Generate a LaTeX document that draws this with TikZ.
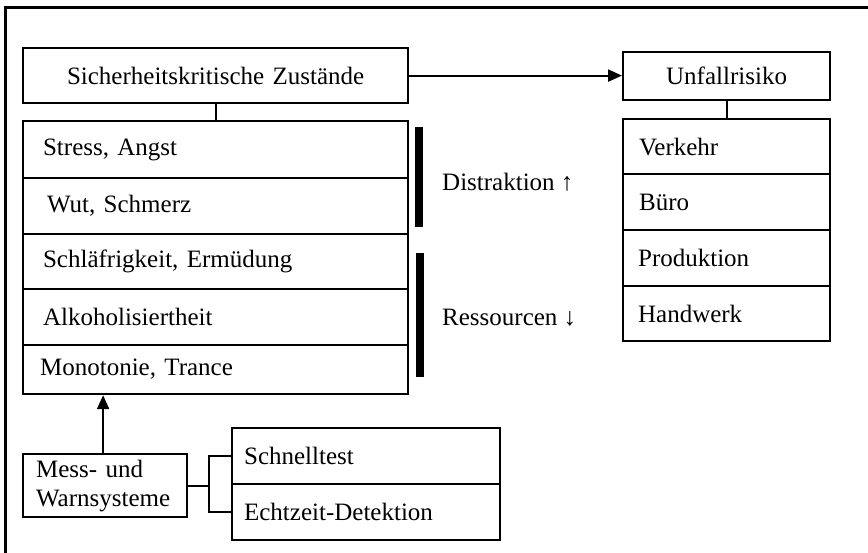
\documentclass[tikz,border=0pt]{standalone}
\usepackage{fontspec}
\setmainfont{Liberation Serif}
\usetikzlibrary{arrows.meta}
\begin{document}
\begin{tikzpicture}[x=1pt,y=-1pt,
  every node/.style={font=\fontsize{25}{29}\selectfont},
  box/.style={draw, line width=2.2pt, anchor=north west, inner ysep=0pt, inner xsep=0pt, align=left},
  bar/.style={fill=black, draw=none, inner sep=0pt, minimum width=8pt, anchor=north west},
  conn/.style={line width=2.2pt},
  arr/.style={line width=2.2pt, -{Triangle[length=14pt,width=12pt]}}]
\useasboundingbox (0,0) rectangle (868,552);
\begin{scope}
\clip (0,0) rectangle (868,552);
\draw[line width=3pt] (5,7) rectangle (880,570);
\end{scope}
% top boxes
\node[box, minimum height=55pt, align=center, text width=385pt] (S) at (22,47) {Sicherheitskritische Zustände};
\node[box, minimum height=48pt, align=center, text width=207pt] (U) at (622,51) {Unfallrisiko};
% left list
\node[box, minimum height=57pt, text width=385pt] (L1) at (22,120) {\hspace*{20pt}Stress, Angst};
\node[box, minimum height=56pt, text width=385pt] (L2) at (22,177) {\hspace*{24pt}Wut, Schmerz};
\node[box, minimum height=55pt, text width=385pt] (L3) at (22,233) {\hspace*{20pt}Schläfrigkeit, Ermüdung};
\node[box, minimum height=56pt, text width=385pt] (L4) at (22,288) {\hspace*{20pt}Alkoholisiertheit};
\node[box, minimum height=49pt, text width=385pt] (L5) at (22,344) {\hspace*{17pt}Monotonie, Trance};
% right list
\node[box, minimum height=55pt, text width=207pt] (R1) at (622,118) {\hspace*{16pt}Verkehr};
\node[box, minimum height=56pt, text width=207pt] (R2) at (622,173) {\hspace*{16pt}Büro};
\node[box, minimum height=56pt, text width=207pt] (R3) at (622,229) {\hspace*{15pt}Produktion};
\node[box, minimum height=55pt, text width=207pt] (R4) at (622,285) {\hspace*{15pt}Handwerk};
% bars and labels
\node[bar, minimum height=100pt] (B1) at (415,127) {};
\node[bar, minimum height=124pt] (B2) at (416,253) {};
\node[anchor=west, inner sep=0pt] (D) at (442,182) {Distraktion ↑};
\node[anchor=west, inner sep=0pt] (Rs) at (442,318) {Ressourcen ↓};
% bottom
\node[box, minimum height=63pt, text width=164pt] (M) at (22,453) {\hspace*{13pt}Mess- und\\\hspace*{13pt}Warnsysteme};
\node[box, minimum height=56pt, text width=268pt] (T1) at (231,427) {\hspace*{12pt}Schnelltest};
\node[box, minimum height=56pt, text width=268pt] (T2) at (231,483) {\hspace*{12pt}Echtzeit-Detektion};
% connectors
\draw[arr] (S.east) -- (S.east -| U.west);
\draw[conn] (S.south) -- (S.south |- L1.north);
\draw[conn] (U.south) -- (U.south |- R1.north);
\draw[arr] ([xshift=-2pt]M.north) -- ([xshift=-2pt]M.north |- L5.south);
\coordinate (J) at ([xshift=21pt]M.east);
\draw[conn] (M.east) -- (J);
\draw[conn] (J) |- (T1.west);
\draw[conn] (J) |- (T2.west);
\end{tikzpicture}
\end{document}
